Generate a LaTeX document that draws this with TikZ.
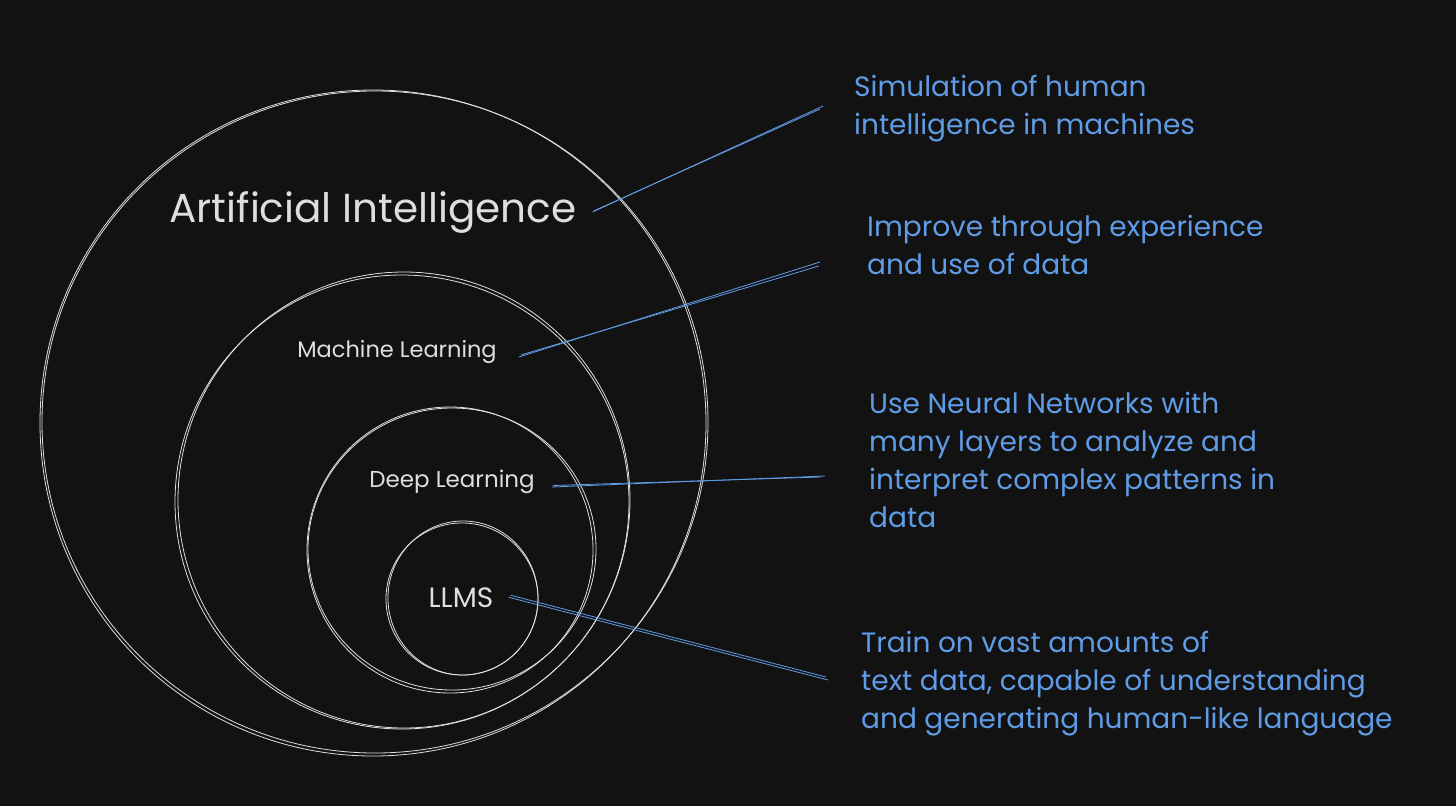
\documentclass[tikz,border=0pt]{standalone}
\usepackage{fontspec}
\setmainfont{Poppins}
\usetikzlibrary{calc}
\definecolor{board}{HTML}{121212}
\definecolor{chalk}{HTML}{DEDEDE}
\definecolor{note}{RGB}{96,156,230}
\begin{document}
\begin{tikzpicture}[x=1pt, y=-1pt,
    ring/.style={draw=chalk, line width=0.8pt},
    ringtext/.style={text=chalk, inner sep=0pt, anchor=base},
    desc/.style={text=note, inner sep=0pt, anchor=north west, align=left,
      font=\fontsize{28}{38}\selectfont},
    link/.style={draw=note, line width=0.8pt}]
  \fill[board] (0,0) rectangle (1456,806);
  \useasboundingbox (0,0) rectangle (1456,806);
  % nested circles, each stroked twice
  \draw[ring] (373,423) circle[radius=333pt];
  \draw[ring] (375,422) ellipse[x radius=333pt, y radius=331pt];
  \draw[ring] (402,502) circle[radius=227pt];
  \draw[ring] (404,500) ellipse[x radius=226pt, y radius=228pt];
  \draw[ring] (450,550) circle[radius=143pt];
  \draw[ring] (452,549) ellipse[x radius=144pt, y radius=141pt];
  \draw[ring] (462,599) circle[radius=76pt];
  \draw[ring] (463,598) ellipse[x radius=75pt, y radius=77pt];
  % circle names
  \node[ringtext, font=\fontsize{40.5}{48}\selectfont] (ai) at (373,222) {Artificial Intelligence};
  \node[ringtext, font=\fontsize{22.5}{26}\selectfont] (ml) at (397,357) {Machine Learning};
  \node[ringtext, font=\fontsize{23}{26}\selectfont] (dl) at (452,487) {Deep Learning};
  \node[ringtext, font=\fontsize{28}{32}\selectfont] (llms) at (461,607) {LLMS};
  % notes on the right
  \node[desc] (aitxt) at (854,75) {Simulation of human\\intelligence in machines};
  \node[desc] (mltxt) at (867,215) {Improve through experience\\and use of data};
  \node[desc] (dltxt) at (869,392) {Use Neural Networks with\\many layers to analyze and\\interpret complex patterns in\\data};
  \node[desc] (llmstxt) at (861,631) {Train on vast amounts of\\text data, capable of understanding\\and generating human-like language};
  % pointers
  \coordinate (aitip) at (823,106);
  \coordinate (mltip) at (820,262);
  \coordinate (dltip) at (825,476);
  \coordinate (llmstip) at (828,680);
  \draw[link] ([xshift=16pt]ai.east) -- (aitip);
  \draw[link] ([xshift=17pt,yshift=1pt]ai.east) -- ($(aitip)+(-3,3)$);
  \draw[link] ([xshift=22pt]ml.base east) -- (mltip);
  \draw[link] ([xshift=24pt,yshift=2pt]ml.base east) -- ($(mltip)+(-1,4)$);
  \draw[link] ([xshift=17pt]dl.base east) -- (dltip);
  \draw[link] ([xshift=18pt,yshift=1.5pt]dl.base east) -- ($(dltip)+(-4,1)$);
  \draw[link] ([xshift=15pt]llms.east) -- (llmstip);
  \draw[link] ([xshift=17pt,yshift=2pt]llms.east) -- ($(llmstip)+(-2,-3)$);
\end{tikzpicture}
\end{document}
